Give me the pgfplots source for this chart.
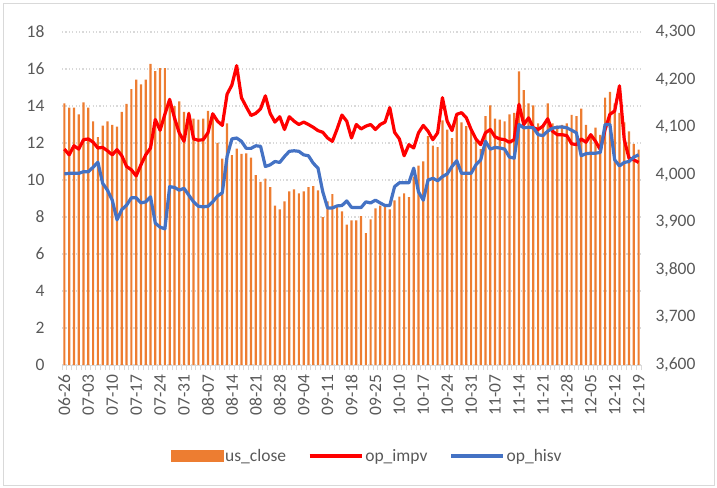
\documentclass[border=0pt]{standalone}
\usepackage{fontspec}
\setmainfont{Carlito}
\usepackage{pgfplots}
\usepackage{pgfplotstable}
\pgfplotsset{compat=1.18}
\definecolor{txt}{HTML}{595959}
\definecolor{grd}{HTML}{D9D9D9}
\definecolor{barc}{HTML}{ED7D31}
\definecolor{bluec}{HTML}{4472C4}
\definecolor{redc}{HTML}{FF0000}
\newcommand\fs{\fontsize{17.5bp}{21bp}\selectfont}
\pgfplotsset{
  lineleg/.style={legend image code/.code={\draw[##1] (0bp,0bp) -- (52bp,0bp);}},
  barleg/.style={legend image code/.code={\fill[barc] (0bp,-5.3bp) rectangle (52bp,5.3bp);}}
}

\pgfplotstableread{
i us impv hisv
0 4150 11.67 10.33
1 4141 11.36 10.36
2 4141 11.85 10.36
3 4127 11.67 10.36
4 4152 12.18 10.45
5 4141 12.22 10.45
6 4112 12.04 10.69
7 4079 11.73 10.96
8 4103 11.76 9.82
9 4112 11.58 9.45
10 4105 11.36 8.91
11 4101 11.64 7.85
12 4132 11.31 8.40
13 4149 10.73 8.64
14 4180 10.55 9.04
15 4200 10.22 9.04
16 4190 10.82 8.76
17 4200 11.36 8.82
18 4233 11.73 9.09
19 4218 13.27 7.67
20 4224 12.69 7.45
21 4224 13.55 7.36
22 4152 14.36 9.64
23 4144 13.36 9.60
24 4154 12.55 9.45
25 4132 12.09 9.55
26 4132 13.58 9.18
27 4118 12.22 8.82
28 4116 12.15 8.58
29 4118 12.18 8.55
30 4134 12.55 8.58
31 4125 13.58 8.82
32 4067 13.18 9.13
33 4034 12.95 9.31
34 4108 14.64 11.27
35 4041 15.13 12.22
36 4055 16.18 12.27
37 4044 14.45 12.09
38 4045 13.96 11.71
39 4036 13.49 11.71
40 3999 13.60 11.85
41 3985 13.85 11.82
42 3992 14.55 10.73
43 3974 13.60 10.82
44 3935 13.13 11.00
45 3927 13.42 10.95
46 3944 12.73 11.27
47 3965 13.42 11.55
48 3969 13.18 11.58
49 3961 13.00 11.55
50 3965 13.13 11.36
51 3974 13.00 11.31
52 3976 12.85 10.91
53 3967 12.67 10.64
54 3911 12.58 9.36
55 3944 12.27 8.49
56 3959 12.09 8.49
57 3932 12.76 8.60
58 3923 13.51 8.62
59 3895 13.18 8.87
60 3904 12.27 8.52
61 3904 13.00 8.51
62 3913 12.76 8.51
63 3877 12.91 8.82
64 3906 13.00 8.76
65 3929 12.73 8.91
66 3935 13.00 8.76
67 3938 13.13 8.62
68 3927 13.91 8.62
69 3946 12.58 9.64
70 3954 12.22 9.85
71 3961 11.31 9.85
72 3953 11.91 9.85
73 3996 11.73 10.64
74 4019 12.55 9.36
75 4028 12.95 8.91
76 4081 12.64 10.00
77 4061 12.18 10.09
78 4058 12.55 9.96
79 4114 14.45 10.18
80 4095 13.18 10.33
81 4077 12.67 10.73
82 4120 13.55 11.04
83 4110 13.64 10.36
84 4102 13.36 10.36
85 4090 12.73 10.36
86 4075 12.22 10.82
87 4054 11.91 11.09
88 4123 12.55 12.09
89 4146 12.73 11.67
90 4118 12.33 11.76
91 4116 12.22 11.73
92 4112 12.18 11.67
93 4127 12.04 11.24
94 4130 12.18 11.18
95 4217 14.09 13.00
96 4178 13.00 12.82
97 4150 13.36 12.85
98 4146 12.82 12.82
99 4108 12.73 12.45
100 4103 12.91 12.40
101 4150 13.31 12.64
102 4108 12.64 12.80
103 4103 12.45 12.85
104 4105 12.45 12.87
105 4108 12.40 12.82
106 4126 11.96 12.69
107 4123 11.91 12.55
108 4139 12.22 11.31
109 4105 12.04 11.42
110 4084 12.45 11.45
111 4099 12.09 11.45
112 4084 11.64 11.49
113 4162 12.73 13.00
114 4174 13.55 13.00
115 4150 13.73 11.09
116 4130 15.09 10.76
117 4110 12.18 10.95
118 4091 11.18 11.00
119 4065 11.09 11.24
120 4053 10.95 11.36
}\data

\pgfplotsset{base/.style={width=579bp,height=333bp,scale only axis,
  xmin=-0.5,xmax=120.5,
  /pgf/number format/assume math mode=true,
  ticklabel style={font=\fs, text=txt},
  major tick length=0pt}}

\begin{document}
\begin{tikzpicture}
\path[use as bounding box] (-62bp,-123bp) rectangle (655bp,365bp);
\draw[grd, line width=0.8bp] (-59bp,-120bp) rectangle (652bp,362bp);

% grid, left labels, x labels
\begin{axis}[base, ymin=0, ymax=18, ytick={0,2,...,18},
  ymajorgrids, grid style={grd, line width=1.2bp, dash pattern=on 1.2bp off 2.2bp},
  axis x line*=bottom, axis y line*=left,
  y axis line style={draw=none},
  x axis line style={grd, line width=1bp, -},
  xtick={0,5,...,120},
  xticklabels={06-26,07-03,07-10,07-17,07-24,07-31,08-07,08-14,08-21,08-28,09-04,09-11,09-18,09-25,10-10,10-17,10-24,10-31,11-07,11-14,11-21,11-28,12-05,12-12,12-19},
  minor xtick={-0.5,0.5,...,120.5},
  tick align=outside, minor tick length=5bp,
  minor x tick style={grd, line width=1bp},
  xticklabel style={rotate=90, anchor=east},
  xticklabel shift=6bp,
  yticklabel shift=14bp]
\end{axis}

% bars on right axis
\begin{axis}[base, ymin=3600, ymax=4300, ytick={3600,3700,...,4300},
  axis y line*=right, axis x line=none,
  y axis line style={draw=none},
  /pgf/number format/1000 sep={,},
  yticklabel shift=11bp]
\addplot[ybar, bar width=2.2bp, fill=barc, draw=none] table[x=i,y=us]{\data};
\end{axis}

% lines on left axis
\begin{axis}[base, ymin=0, ymax=18, hide axis,
  legend columns=3,
  legend style={font=\fs, text=txt, draw=none, fill=none,
    at={(0.527,-0.273)}, anchor=center,
    /tikz/every even column/.append style={column sep=20bp}}]
\addlegendimage{barleg}
\addlegendentry{us\_close}
\addplot[redc, line width=3.2bp, line join=round, lineleg] table[x=i,y=impv]{\data};
\addlegendentry{op\_impv}
\addplot[bluec, line width=3.2bp, line join=round, lineleg] table[x=i,y=hisv]{\data};
\addlegendentry{op\_hisv}
\end{axis}
\end{tikzpicture}
\end{document}
